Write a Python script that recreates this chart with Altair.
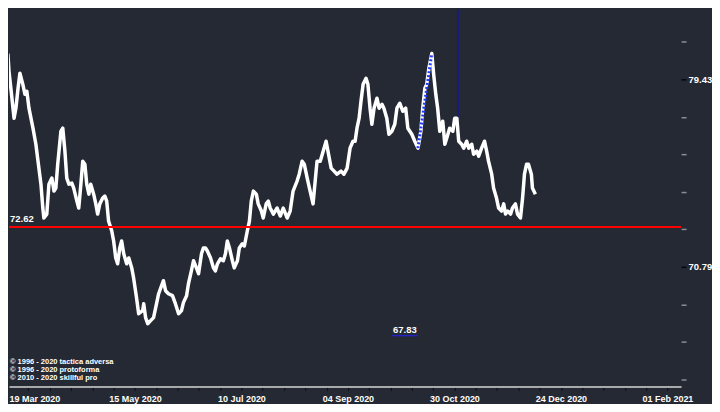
import altair as alt
import pandas as pd

# ---- data (bar index = trading day counted from 19 Mar 2020) ----
bar_idx = [-10.3, -9.2, -8.4, -7.7, -7.3, -6.6, -5.4, -4.7, -3.9, -3.2, -2.1, -1.3, -0.6,
           0.2, 1.7, 2.8, 3.6, 4.7, 5.4, 5.8, 6.9, 7.7, 8.8, 9.6, 10.3, 11.0, 12.2, 12.9,
           13.7, 14.4, 15.2, 16.3, 17.0, 18.2, 18.9, 19.7, 20.4, 21.2, 21.9, 22.7, 23.4,
           24.5, 25.3, 26.0, 26.8, 27.9, 28.7, 29.4, 30.1, 31.3, 32.0, 32.8, 33.5, 34.3,
           35.0, 35.8, 36.9, 37.7, 38.8, 39.5, 40.6, 41.4, 42.9, 43.3, 44.0, 44.8, 45.9,
           47.0, 47.8, 48.9, 50.7, 51.5, 52.6, 54.1, 55.2, 56.4, 57.5, 58.2, 59.4, 60.1,
           61.2, 62.0, 63.1, 63.9, 65.0, 65.7, 66.5, 67.2, 68.4, 69.5, 70.2, 71.0, 72.1,
           73.2, 74.0, 74.7, 75.5, 76.6, 77.3, 78.5, 79.2, 80.3, 81.1, 82.2, 83.0, 83.7,
           84.5, 85.6, 86.3, 87.5, 88.2, 89.3, 90.1, 90.8, 92.0, 93.4, 94.6, 95.7, 97.2,
           98.3, 99.4, 100.9, 101.7, 102.8, 103.6, 104.7, 105.8, 106.9, 107.7, 108.4,
           109.6, 110.7, 111.8, 112.5, 113.7, 114.8, 115.9, 117.4, 118.5, 119.7, 120.8,
           121.9, 122.7, 123.4, 124.2, 124.9, 125.7, 126.8, 127.5, 128.3, 129.0, 129.8,
           130.9, 131.7, 132.8, 133.5, 134.6, 135.4, 136.5, 137.6, 138.4, 139.5, 140.6,
           141.7, 142.5, 144.0, 145.1, 146.3, 147.4, 148.1, 148.9, 149.6, 150.4, 151.5,
           152.2, 153.0, 153.7, 154.5, 155.6, 156.4, 157.1, 158.2, 159.4, 160.1, 160.9,
           161.6, 162.7, 163.5, 164.6, 165.4, 166.5, 167.2, 168.4, 169.1, 170.2, 171.3,
           172.1, 172.8, 174.0, 174.7, 175.8, 176.6, 177.7, 178.5, 179.2, 180.0, 181.1,
           181.8, 182.9, 183.7, 184.8, 185.6, 186.3, 187.1, 187.8, 188.9, 189.3, 190.4]

close = [79.80, 80.26, 80.12, 80.58, 79.80, 79.02, 77.64, 78.10, 79.02, 79.71, 79.20, 78.74, 78.88,
         78.10, 77.18, 76.44, 75.66, 74.60, 73.50, 73.04, 73.22, 74.60, 74.88, 74.28, 74.42, 75.52, 77.04, 77.18,
         76.12, 74.88, 74.60, 74.65, 74.42, 73.82, 73.50, 74.60, 75.66, 75.52, 74.60, 74.14, 74.60,
         74.14, 73.69, 73.22, 73.69, 73.96, 74.05, 73.82, 72.90, 72.44, 71.98, 71.20, 70.93, 71.66,
         71.98, 71.39, 70.93, 71.20, 70.74, 70.28, 69.37, 68.63, 68.77, 69.09, 68.45, 68.17, 68.31,
         68.45, 68.91, 69.55, 70.15, 69.69, 69.55, 69.46, 69.09, 68.63, 68.77, 69.14, 69.46, 70.01,
         70.60, 71.07, 70.74, 70.47, 71.39, 71.66, 71.66, 71.52, 71.20, 70.74, 70.60, 70.93, 71.16,
         71.07, 71.39, 71.98, 71.66, 71.07, 70.74, 71.07, 71.66, 71.85, 71.75, 72.44, 72.90, 73.82,
         74.28, 74.14, 73.69, 73.36, 73.04, 73.69, 73.82, 73.50, 73.22, 73.50, 73.13, 73.50, 73.04,
         73.36, 74.28, 74.74, 75.06, 75.66, 75.52, 74.88, 74.28, 73.69, 74.74, 75.66,
         75.66, 76.12, 76.58, 76.12, 75.34, 75.20, 75.06, 75.20, 75.06, 75.34, 76.26,
         76.58, 76.58, 77.18, 77.64, 78.42, 79.20, 79.48, 79.20, 78.10, 77.36, 78.10,
         78.56, 78.10, 78.28, 78.10, 77.64, 76.90, 77.04, 77.36, 78.10, 78.33, 77.96,
         78.10, 77.18, 76.90, 76.58, 76.26, 77.04, 78.10, 79.02, 79.20, 79.94, 80.62,
         79.66, 78.74, 78.10, 77.04, 77.50, 76.44, 76.72, 77.18, 77.04, 77.64, 77.64,
         76.58, 76.44, 76.26, 76.58, 76.26, 76.44, 75.98, 76.12, 75.89, 76.26, 76.58,
         76.12, 75.66, 75.06, 74.42, 73.96, 73.50, 73.36, 73.69, 73.22, 73.36, 73.22,
         73.50, 73.69, 73.22, 73.04, 73.96, 75.06, 75.52, 75.52, 75.06, 74.42, 74.14]

# x axis labels (every 40 trading days) and minor ticks (every 8)
x_label_pos = [0, 40, 80, 120, 160, 200, 240]
x_labels = ["19 Mar 2020", "15 May 2020", "10 Jul 2020", "04 Sep 2020",
            "30 Oct 2020", "24 Dec 2020", "01 Feb 2021"]
x_tick_pos = list(range(0, 241, 8))

# right price axis
y_ticks = [65.61, 67.34, 69.06, 70.79, 72.52, 74.25, 75.97, 77.70, 79.43, 81.16]
y_labeled = [70.79, 79.43]

x_domain = [-7.3, 245.13]
y_domain = [65.275, 82.647]

# annotations
support_level = 72.62
trend_x = [146.3, 151.5]
trend_y = [76.26, 80.62]
vline_x = 161.3
vline_y = 77.73
low_label = "67.83"
low_label_value = 67.83
low_line_x = [136.5, 146.3]
low_line_y = 67.62
copyright_lines = ["© 1996 - 2020 tactica adversa",
                   "© 1996 - 2020 protoforma",
                   "© 2010 - 2020 skillful pro"]

BG = "#252933"
FONT = "Liberation Sans"

price = pd.DataFrame({"bar": bar_idx, "close": close})

x_expr = " : ".join(f"datum.value == {p} ? '{l}'" for p, l in zip(x_label_pos, x_labels)) + " : ''"
y_expr = " : ".join(f"abs(datum.value - {v}) < 0.001 ? '{v:.2f}'" for v in y_labeled) + " : ''"
y_tick_test = " || ".join(f"abs(datum.value - {v}) < 0.001" for v in y_labeled)

xs = alt.Scale(domain=x_domain, nice=False, zero=False)
ys = alt.Scale(domain=y_domain, nice=False, zero=False)

x_axis = alt.Axis(values=x_tick_pos, labelExpr=x_expr, title=None, grid=False,
                  domainColor="#d4d4d4", domainWidth=1.5, tickColor="#0c0e13",
                  tickSize=4, labelColor="white", labelFont=FONT, labelFontSize=9,
                  labelFontWeight="bold", labelFlush=False, labelOverlap=False,
                  labelPadding=4,
                  labelOffset={"condition": {"test": f"datum.value == {x_label_pos[0]}", "value": 6},
                               "value": 0})
y_axis = alt.Axis(orient="right", values=y_ticks, labelExpr=y_expr, title=None, grid=False,
                  domain=False,
                  tickColor={"condition": {"test": y_tick_test, "value": "#05060a"}, "value": "#8a8d95"},
                  tickSize=5, tickWidth=1.5, labelColor="white", labelFont=FONT,
                  labelFontSize=9.5, labelFontWeight="bold", labelPadding=2,
                  labelFlush=False, labelOverlap=False)


def X(field):
    return alt.X(field, scale=xs, axis=x_axis)


def Y(field):
    return alt.Y(field, scale=ys, axis=y_axis)


line = alt.Chart(price).mark_line(color="white", strokeWidth=3.5, clip=True, strokeJoin="round").encode(
    x=X("bar:Q"), y=Y("close:Q"))

red = alt.Chart(pd.DataFrame({"level": [support_level]})).mark_rule(
    color="#ff0000", strokeWidth=2).encode(y=Y("level:Q"))

red_label = alt.Chart(pd.DataFrame({"level": [support_level], "txt": [f"{support_level:.2f}"]})).mark_text(
    align="left", baseline="bottom", dy=-3, color="white", font=FONT, fontSize=9.5,
    fontWeight="bold").encode(x=alt.value(1), y=Y("level:Q"), text="txt:N")

trend = alt.Chart(pd.DataFrame({"bar": trend_x, "v": trend_y})).mark_line(
    color="#1f3cff", strokeWidth=3, strokeDash=[2, 2]).encode(x=X("bar:Q"), y=Y("v:Q"))

vline = alt.Chart(pd.DataFrame({"bar": [vline_x], "v": [vline_y]})).mark_rule(
    color="#1414a8", strokeWidth=1.5).encode(x=X("bar:Q"), y=Y("v:Q"), y2=alt.value(0))

low_line = alt.Chart(pd.DataFrame({"b1": [low_line_x[0]], "b2": [low_line_x[1]], "v": [low_line_y]})).mark_rule(
    color="#2424c8", strokeWidth=1.5).encode(x=X("b1:Q"), x2="b2:Q", y=Y("v:Q"))

low_text = alt.Chart(pd.DataFrame({"bar": [(low_line_x[0] + low_line_x[1]) / 2], "v": [low_label_value],
                                   "txt": [low_label]})).mark_text(
    color="white", font=FONT, fontSize=9.5, fontWeight="bold", baseline="middle", dy=-1).encode(
    x=X("bar:Q"), y=Y("v:Q"), text="txt:N")

copy_text = alt.Chart(pd.DataFrame({"txt": ["\n".join(copyright_lines)]})).mark_text(
    align="left", baseline="top", color="white", font=FONT, fontSize=7.5, fontWeight="bold",
    lineBreak="\n", lineHeight=8.5).encode(
    x=alt.value(1), y=alt.value(349), text="txt:N")

chart = alt.layer(line, red, trend, vline, low_line, low_text, red_label, copy_text).properties(
    width=674, height=378, padding=0, background=BG
).configure_view(stroke=None).configure_axis(grid=False)

chart.save("out.html", embed_options={"renderer": "svg", "actions": False})
